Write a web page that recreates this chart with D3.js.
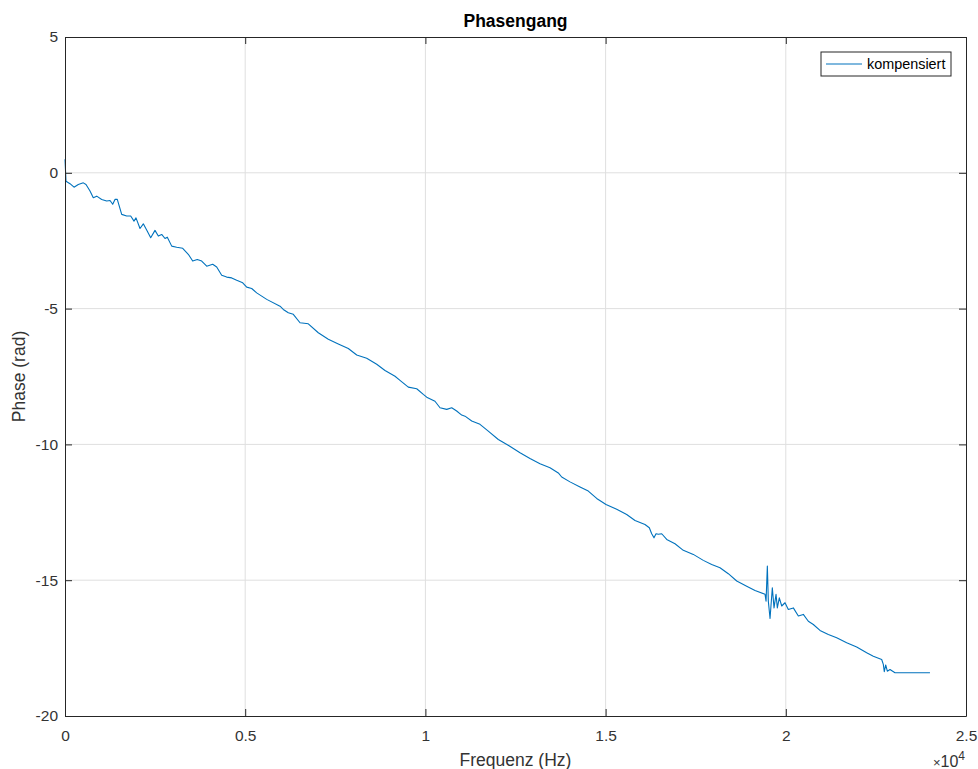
<!DOCTYPE html>
<html>
<head>
<meta charset="utf-8">
<script src="https://cdn.jsdelivr.net/npm/d3@7"></script>
<style>
  html, body { margin: 0; padding: 0; background: #fff; }
  svg { display: block; font-family: "Liberation Sans", Arial, Helvetica, sans-serif; }
</style>
</head>
<body>
<svg id="chart" width="978" height="769"></svg>
<script>
// Measured phase response (frequency in Hz, phase in rad)
const freqHz = [
  0, 28, 139, 250, 369, 508, 583, 694, 785, 880, 1018, 1157, 1249, 1324, 1387, 1451,
  1573, 1712, 1823, 1915, 1970, 2081, 2173, 2284, 2378, 2497, 2589, 2683, 2775, 2839,
  2961, 3099, 3266, 3421, 3543, 3671, 3793, 3932, 4098, 4209, 4348, 4487, 4625, 4764,
  4931, 5042, 5180, 5319, 5458, 5597, 5966, 6057, 6196, 6335, 6521, 6751, 7028, 7306,
  7583, 7861, 8094, 8371, 8649, 8879, 9157, 9295, 9526, 9759, 9942, 10036, 10266, 10405,
  10591, 10730, 10868, 11007, 11099, 11285, 11515, 11745, 12023, 12320, 12625, 12902,
  13180, 13457, 13688, 13782, 14012, 14290, 14520, 14753, 15011, 15308, 15585, 15816,
  16093, 16213, 16279, 16343, 16399, 16463, 16557, 16696, 16926, 17156, 17434, 17711,
  17944, 18174, 18405, 18638, 18915, 19146, 19424, 19452, 19488, 19515, 19563, 19626,
  19673, 19729, 19765, 19820, 19887, 19978, 20070, 20209, 20348, 20486, 20625, 20764,
  20949, 21180, 21412, 21689, 21967, 22244, 22428, 22661, 22706, 22733, 22772, 22817,
  22891, 23030, 23169, 24000
];
const phaseRad = [
  0.50, -0.31, -0.40, -0.53, -0.43, -0.37, -0.43, -0.67, -0.92, -0.86, -0.98, -1.04, -1.02, -1.16, -0.98, -0.98,
  -1.53, -1.59, -1.59, -1.78, -1.66, -2.05, -1.88, -2.15, -2.39, -2.12, -2.33, -2.27, -2.42, -2.37,
  -2.70, -2.74, -2.78, -3.00, -3.25, -3.19, -3.25, -3.44, -3.37, -3.47, -3.77, -3.84, -3.87, -3.96,
  -4.05, -4.21, -4.26, -4.42, -4.54, -4.66, -4.91, -5.03, -5.15, -5.21, -5.52, -5.56, -5.89, -6.13,
  -6.30, -6.47, -6.71, -6.83, -7.05, -7.28, -7.49, -7.64, -7.89, -7.95, -8.16, -8.26, -8.41, -8.65,
  -8.71, -8.65, -8.77, -8.92, -8.96, -9.14, -9.26, -9.51, -9.82, -10.05, -10.31, -10.52,
  -10.71, -10.86, -11.05, -11.20, -11.38, -11.57, -11.72, -11.99, -12.21, -12.39, -12.58, -12.80,
  -12.95, -13.07, -13.29, -13.44, -13.29, -13.31, -13.29, -13.50, -13.66, -13.90, -14.05, -14.27,
  -14.42, -14.54, -14.76, -15.03, -15.22, -15.38, -15.52, -15.77, -14.48, -15.77, -16.41, -15.28,
  -16.02, -15.52, -16.02, -15.65, -15.95, -15.83, -16.08, -16.02, -16.32, -16.26, -16.51, -16.63,
  -16.85, -17.00, -17.12, -17.30, -17.46, -17.67, -17.80, -17.92, -18.10, -18.37, -18.12, -18.35,
  -18.29, -18.41, -18.41, -18.41
];

const xTicks = [0, 5000, 10000, 15000, 20000, 25000];
const xTickLabels = ["0", "0.5", "1", "1.5", "2", "2.5"];
const yTicks = [5, 0, -5, -10, -15, -20];
const seriesName = "kompensiert";

const svg = d3.select("#chart");
const plotLeft = 65, plotRight = 966, plotTop = 37, plotBottom = 716;
const axisColor = "#262626";
const textColor = "#333333";
const tickLen = 7;

const x = d3.scaleLinear().domain([0, 25000]).range([plotLeft, plotRight]);
const y = d3.scaleLinear().domain([-20, 5]).range([plotBottom, plotTop]);

// grid
const grid = svg.append("g").attr("stroke", "#dfdfdf").attr("stroke-width", 1);
xTicks.slice(1, -1).forEach(t => {
  grid.append("line").attr("x1", x(t)).attr("x2", x(t)).attr("y1", plotTop).attr("y2", plotBottom);
});
yTicks.slice(1, -1).forEach(t => {
  grid.append("line").attr("x1", plotLeft).attr("x2", plotRight).attr("y1", y(t)).attr("y2", y(t));
});

// data line
const pts = freqHz.map((f, i) => [f, phaseRad[i]]);
svg.append("path")
  .datum(pts)
  .attr("fill", "none")
  .attr("stroke", "#0072BD")
  .attr("stroke-width", 1.1)
  .attr("stroke-linejoin", "round")
  .attr("d", d3.line().x(d => x(d[0])).y(d => y(d[1])));

// axes (box with inward ticks on all sides)
const fmtX = (d, i) => xTickLabels[i];
const fmtY = d => String(d);
svg.append("g").attr("transform", `translate(0,${plotBottom})`)
  .call(d3.axisBottom(x).tickValues(xTicks).tickFormat(fmtX).tickSizeInner(-tickLen).tickSizeOuter(0).tickPadding(14));
svg.append("g").attr("transform", `translate(0,${plotTop})`)
  .call(d3.axisTop(x).tickValues(xTicks).tickFormat("").tickSizeInner(-tickLen).tickSizeOuter(0));
svg.append("g").attr("transform", `translate(${plotLeft},0)`)
  .call(d3.axisLeft(y).tickValues(yTicks).tickFormat(fmtY).tickSizeInner(-tickLen).tickSizeOuter(0).tickPadding(7));
svg.append("g").attr("transform", `translate(${plotRight},0)`)
  .call(d3.axisRight(y).tickValues(yTicks).tickFormat("").tickSizeInner(-tickLen).tickSizeOuter(0));

svg.selectAll(".domain").attr("stroke", axisColor).attr("stroke-width", 1);
svg.selectAll(".tick line").attr("stroke", axisColor).attr("stroke-width", 1);
svg.selectAll(".tick text").attr("fill", textColor).style("font-size", "15.5px")
  .style("font-family", "\"Liberation Sans\", Arial, Helvetica, sans-serif");

// exponent label
const expo = svg.append("text").attr("x", 965).attr("y", 767).attr("text-anchor", "end")
  .attr("fill", textColor).style("font-size", "16px");
expo.append("tspan").style("font-size", "13px").text("\u00d7");
expo.append("tspan").text("10");
expo.append("tspan").attr("dy", -7).style("font-size", "12px").text("4");

// title & axis labels
svg.append("text").attr("x", (plotLeft + plotRight) / 2).attr("y", 27).attr("text-anchor", "middle")
  .attr("fill", "#000").style("font-size", "17.5px").style("font-weight", "bold").text("Phasengang");
svg.append("text").attr("x", (plotLeft + plotRight) / 2).attr("y", 766).attr("text-anchor", "middle")
  .attr("fill", textColor).style("font-size", "17.5px").text("Frequenz (Hz)");
svg.append("text").attr("transform", `translate(25,${(plotTop + plotBottom) / 2}) rotate(-90)`)
  .attr("text-anchor", "middle").attr("fill", textColor).style("font-size", "17.5px").text("Phase (rad)");

// legend
const lg = svg.append("g");
lg.append("rect").attr("x", 821).attr("y", 52).attr("width", 130).attr("height", 24)
  .attr("fill", "#fff").attr("stroke", axisColor).attr("stroke-width", 1);
lg.append("line").attr("x1", 826).attr("x2", 862).attr("y1", 64).attr("y2", 64)
  .attr("stroke", "#0072BD").attr("stroke-width", 1.1);
lg.append("text").attr("x", 867).attr("y", 69).attr("fill", "#000").style("font-size", "14.4px").text(seriesName);
</script>
</body>
</html>
